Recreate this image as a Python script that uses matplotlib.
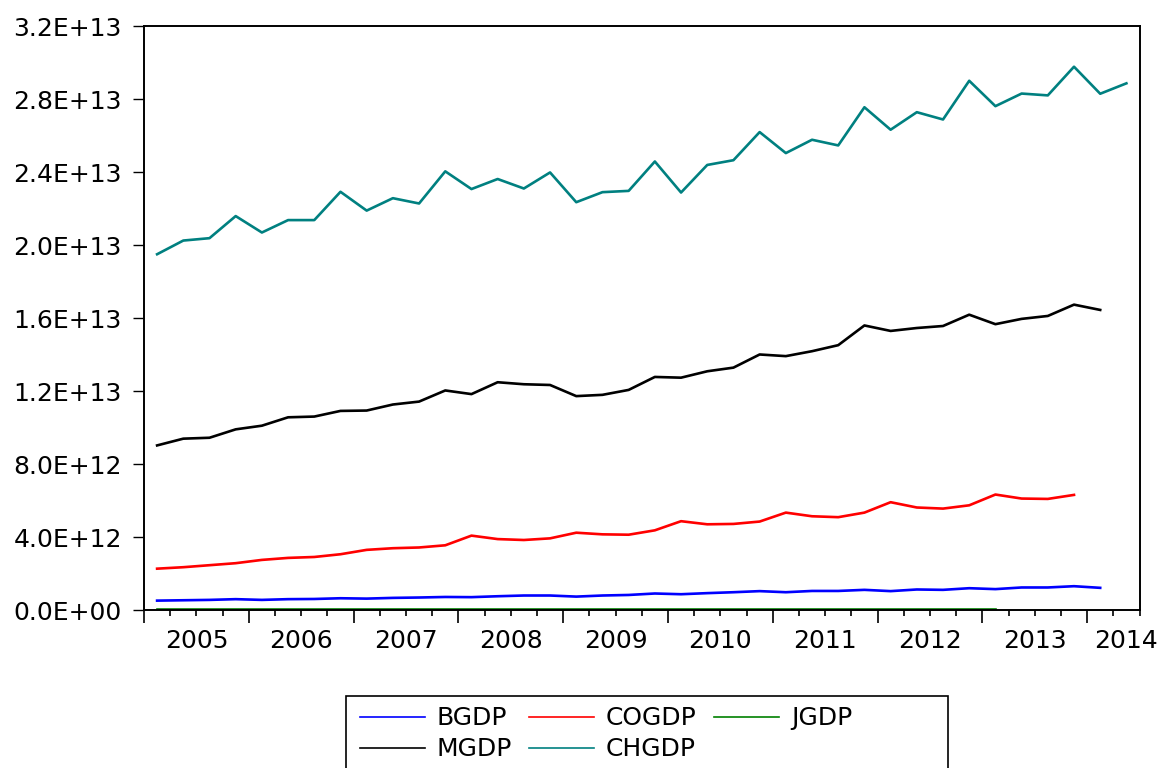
import matplotlib
matplotlib.use("Agg")
import matplotlib.pyplot as plt
from matplotlib.patches import Rectangle
import numpy as np

# quarterly GDP series, 2005Q1 onwards, in units of 1e12
bgdp = [0.53, 0.55, 0.57, 0.61, 0.57, 0.61, 0.62, 0.66, 0.64, 0.68,
        0.70, 0.73, 0.72, 0.77, 0.81, 0.81, 0.75, 0.81, 0.84, 0.92,
        0.88, 0.94, 0.99, 1.05, 0.99, 1.06, 1.06, 1.12, 1.05, 1.14,
        1.12, 1.21, 1.16, 1.25, 1.25, 1.32, 1.23]
cogdp = [2.28, 2.36, 2.47, 2.58, 2.76, 2.87, 2.92, 3.07, 3.31, 3.40,
         3.44, 3.56, 4.09, 3.90, 3.85, 3.94, 4.25, 4.16, 4.14, 4.38,
         4.88, 4.71, 4.73, 4.86, 5.35, 5.15, 5.10, 5.35, 5.92, 5.63,
         5.57, 5.75, 6.34, 6.12, 6.10, 6.32]
jgdp = [0.05, 0.05, 0.05, 0.05, 0.05, 0.05, 0.05, 0.05, 0.05, 0.05,
        0.05, 0.05, 0.05, 0.05, 0.05, 0.05, 0.05, 0.05, 0.05, 0.05,
        0.05, 0.05, 0.05, 0.05, 0.05, 0.05, 0.05, 0.05, 0.05, 0.05,
        0.05, 0.05, 0.05]
mgdp = [9.03, 9.40, 9.45, 9.91, 10.11, 10.57, 10.61, 10.92, 10.94, 11.27,
        11.43, 12.04, 11.84, 12.49, 12.38, 12.34, 11.73, 11.80, 12.07, 12.78,
        12.74, 13.09, 13.29, 14.01, 13.92, 14.19, 14.52, 15.60, 15.30, 15.46,
        15.57, 16.19, 15.67, 15.96, 16.12, 16.74, 16.45]
chgdp = [19.50, 20.25, 20.38, 21.59, 20.69, 21.37, 21.37, 22.92, 21.89, 22.57,
         22.28, 24.04, 23.07, 23.62, 23.10, 23.98, 22.35, 22.90, 22.97, 24.58,
         22.88, 24.39, 24.65, 26.19, 25.04, 25.77, 25.46, 27.55, 26.32, 27.28,
         26.88, 29.00, 27.61, 28.30, 28.20, 29.77, 28.29, 28.86]

years = list(range(2005, 2015))
ytick_vals = [0, 4e12, 8e12, 1.2e13, 1.6e13, 2.0e13, 2.4e13, 2.8e13, 3.2e13]
ytick_labels = ["0.0E+00", "4.0E+12", "8.0E+12", "1.2E+13", "1.6E+13",
                "2.0E+13", "2.4E+13", "2.8E+13", "3.2E+13"]


def quarter_x(n):
    """ x position of each quarter, at the middle of the period """
    return 2005 + (np.arange(n) + 0.5) / 4


series = {
    "BGDP": (bgdp, "#0000ff"),
    "COGDP": (cogdp, "#ff0000"),
    "JGDP": (jgdp, "#008000"),
    "MGDP": (mgdp, "#000000"),
    "CHGDP": (chgdp, "#008080"),
}

plt.rcParams['font.family'] = ['DejaVu Sans']
FS = 18
fig = plt.figure(figsize=(11.76, 7.68), dpi=100)
ax = fig.add_axes([144 / 1176, 1 - 610.3 / 768, (1139.5 - 144) / 1176, (610.3 - 26) / 768])

lines = {}
for name, (vals, color) in series.items():
    lines[name], = ax.plot(quarter_x(len(vals)), np.array(vals) * 1e12,
                           color=color, lw=1.9, label=name)

ax.set_xlim(2005, 2014.5)
ax.set_ylim(0, 3.2e13)

ax.set_yticks(ytick_vals)
ax.set_yticklabels(ytick_labels)
ax.set_xticks(years)
ax.set_xticklabels([])
ax.set_xticks(np.arange(2005, 2014.51, 0.25), minor=True)

ax.tick_params(axis='y', direction='out', length=8, width=1, pad=8, labelsize=FS)
ax.tick_params(axis='x', which='major', direction='out', length=9.5, width=1.2)
ax.tick_params(axis='x', which='minor', direction='out', length=4.5, width=1.2)

for s in ax.spines.values():
    s.set_linewidth(1.4)

# year labels sit in the middle of each year span
for y in years:
    xpos = y + 0.5 if y < 2014 else 2014.375
    ax.annotate(str(y), xy=(xpos, 0), xycoords=('data', 'axes fraction'),
                xytext=(0, -22), textcoords='offset points',
                ha='center', va='center', fontsize=FS)

# legend fills column by column, so order it to read across the rows
order = ["BGDP", "MGDP", "COGDP", "CHGDP", "JGDP"]
leg = fig.legend([lines[k] for k in order], order, ncol=3, frameon=False, fontsize=FS,
                 loc='upper left', bbox_to_anchor=(345.7 / 1176, 1 - 692 / 768),
                 borderaxespad=0, borderpad=0.57, handlelength=2.6,
                 handletextpad=0.47, columnspacing=0.69, labelspacing=0.28)
for h in leg.legend_handles:
    h.set_linewidth(1.2)

# box round the legend, running off the bottom edge
fig.patches.append(Rectangle((345.7 / 1176, -0.01), (947.7 - 345.7) / 1176,
                             1 - 695.7 / 768 + 0.01, transform=fig.transFigure,
                             fill=False, edgecolor='black', lw=1.2))

fig.savefig("out.png", dpi=100)
